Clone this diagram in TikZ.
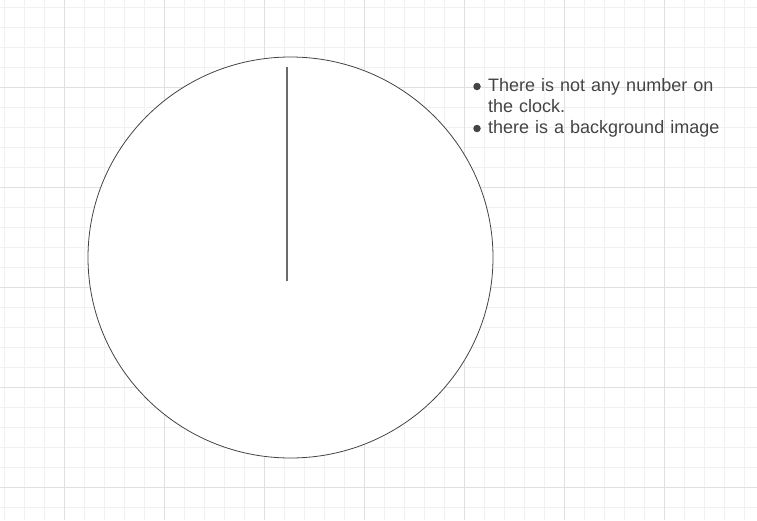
\documentclass[tikz,border=0pt]{standalone}
\usepackage{fontspec}
\setmainfont{Liberation Sans}
\usetikzlibrary{shapes.geometric}
\definecolor{gridminor}{HTML}{F1F1F1}
\definecolor{gridmajor}{HTML}{E0E0E0}
\definecolor{inkdark}{HTML}{444444}
\definecolor{handgray}{HTML}{6A6A6A}
\definecolor{notetext}{HTML}{444444}
\tikzset{
  clockface/.style={ellipse, draw=inkdark, line width=0.8pt, fill=white, inner sep=0pt},
  itemtext/.style={anchor=north west, inner sep=0pt, text width=236pt, align=left,
    text=notetext, font=\fontsize{18}{21}\selectfont},
  itembullet/.style={circle, fill=notetext, inner sep=0pt, minimum size=7.5pt}
}
\begin{document}
\begin{tikzpicture}[x=1pt, y=-1pt]
    \useasboundingbox (0,0) rectangle (757,520);
    \fill[white] (0,0) rectangle (757,520);

    % Raster
    \foreach \gx in {4,24,...,757} \draw[gridminor, line width=1pt] (\gx,0) -- (\gx,520);
    \foreach \gy in {7,27,...,520} \draw[gridminor, line width=1pt] (0,\gy) -- (757,\gy);
    \foreach \gx in {64,164,...,757} \draw[gridmajor, line width=1pt] (\gx,0) -- (\gx,520);
    \foreach \gy in {87,187,...,520} \draw[gridmajor, line width=1pt] (0,\gy) -- (757,\gy);

    % Uhr
    \node[clockface, minimum width=405pt, minimum height=401pt] (clock) at (290.5,257.5) {};
    \coordinate (hub) at (287,281);
    \coordinate (tip) at (287,67);
    \draw[handgray, line width=1.6pt] (hub) -- (tip);

    % Notizen
    \node[itembullet] (dot1) at (477,86.5) {};
    \node[itemtext] (note1) at (488,78) {There is not any number on the clock.};
    \node[itembullet] (dot2) at (477,128.5) {};
    \node[itemtext] (note2) at (488,120) {there is a background image};
\end{tikzpicture}
\end{document}
